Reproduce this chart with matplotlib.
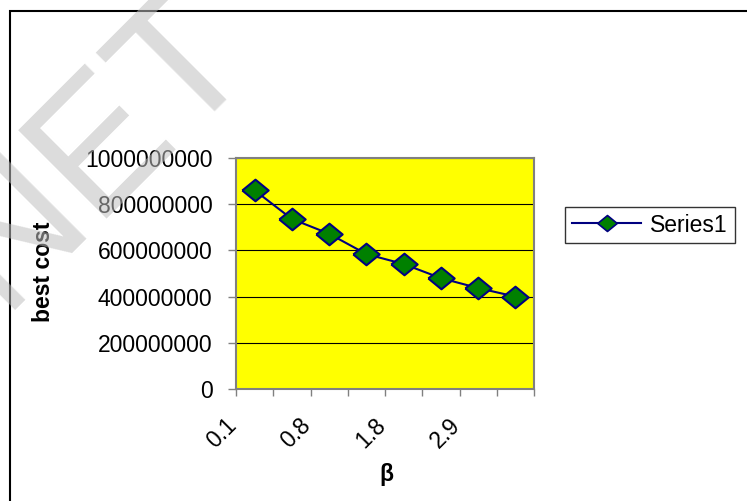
import numpy as np
import matplotlib
matplotlib.use('Agg')
import matplotlib.pyplot as plt
from matplotlib.patches import Rectangle
from matplotlib.lines import Line2D
from matplotlib.transforms import ScaledTranslation

# --- Data ---
best_cost = [860e6, 736e6, 672e6, 584e6, 541e6, 480e6, 437e6, 400e6]
beta_labels = ['0.1', '0.8', '1.8', '2.9']   # every other category is labelled
y_ticks = [0, 200000000, 400000000, 600000000, 800000000, 1000000000]
series_name = 'Series1'

# --- Style ---
plt.rcParams['font.family'] = ['Liberation Sans', 'DejaVu Sans']
FS = 16.5
YELLOW = '#ffff00'
GREEN = '#008000'
NAVY = '#000080'
GREY = '#808080'

fig = plt.figure(figsize=(7.47, 5.01), dpi=100)
ax = fig.add_axes([236 / 747, 1 - 389 / 501, (534 - 236) / 747, (389 - 158) / 501])
ax.set_facecolor(YELLOW)

n = len(best_cost)
x = np.arange(n)
diamond = [(-1, 0), (0, 0.82), (1, 0), (0, -0.82), (-1, 0)]
ax.plot(x, best_cost, color=NAVY, lw=1.5, marker=diamond, markersize=19,
        markerfacecolor=GREEN, markeredgecolor=NAVY, markeredgewidth=1.5,
        zorder=3, clip_on=False)

ax.set_xlim(-0.5, n - 0.5)
ax.set_ylim(0, 1e9)

# y axis
ax.set_yticks(y_ticks)
ax.set_yticklabels([str(v) for v in y_ticks], fontsize=FS)
ax.yaxis.grid(True, color='black', lw=0.8)
ax.set_axisbelow(True)
ax.tick_params(axis='y', length=6, width=1, color=GREY, pad=11, direction='out')

# x axis: tick marks between categories, labels on every other boundary
ax.xaxis.remove_overlapping_locs = False
ax.set_xticks(np.arange(n + 1) - 0.5)
ax.set_xticklabels([])
ax.tick_params(axis='x', length=5, width=1, color=GREY, direction='out')
ax.set_xticks(np.arange(0, n, 2) - 0.5, minor=True)
ax.set_xticklabels(beta_labels, minor=True, fontsize=FS, rotation=45,
                   ha='right', va='center', rotation_mode='anchor')
ax.tick_params(axis='x', which='minor', length=0, pad=24)
for lab in ax.get_xticklabels(minor=True):
    lab.set_transform(lab.get_transform() + ScaledTranslation(-3 / 100, 0, fig.dpi_scale_trans))

for s in ax.spines.values():
    s.set_color(GREY)
    s.set_linewidth(1.5)

fig.text(386 / 747, 1 - 474 / 501, 'β', fontsize=FS, fontweight='bold',
         ha='center', va='center')
fig.text(44 / 747, 1 - 272 / 501, 'best cost', fontsize=FS, fontweight='bold',
         ha='center', va='center', rotation=90)

# legend
handle = Line2D([], [], color=NAVY, lw=1.5, marker=diamond, markersize=14,
                markerfacecolor=GREEN, markeredgecolor=NAVY, markeredgewidth=1.2)
leg = fig.legend([handle], [series_name], loc='center',
                 bbox_to_anchor=(650 / 747, 1 - 225 / 501), fontsize=FS,
                 frameon=True, fancybox=False, edgecolor='black',
                 handlelength=3.0, borderpad=0.3, handletextpad=0.4,
                 borderaxespad=0)
leg.get_frame().set_linewidth(1.0)

# outer chart border (continues past the right and bottom edges)
fig.patches.append(Rectangle((10 / 747, -0.2), 1.2, 1 - 11 / 501 + 0.2,
                             transform=fig.transFigure, fill=False,
                             edgecolor='black', lw=1.5, zorder=0))

# faint watermark over the top-left corner
fig.text(95 / 747, 1 - 150 / 501, 'NET', fontsize=130, color='#bfbfbf',
         alpha=0.55, rotation=45, ha='center', va='center', zorder=10)

fig.savefig('out.png', dpi=100)
